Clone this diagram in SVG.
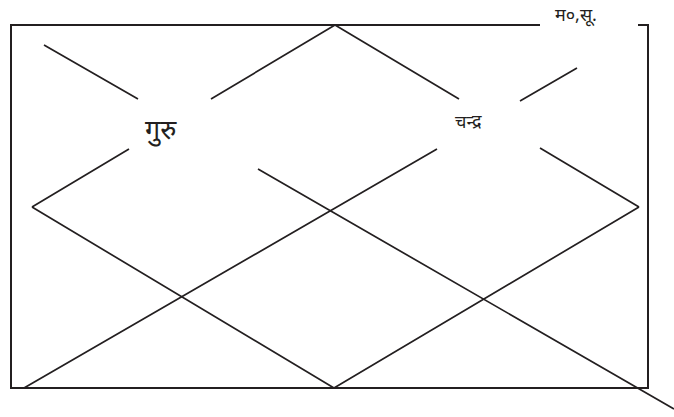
<svg xmlns="http://www.w3.org/2000/svg" width="674" height="417" viewBox="0 0 674 417">
<style>
.ln{stroke:#231f20;stroke-width:1.7;fill:none;stroke-linecap:butt}
.bd{stroke:#231f20;stroke-width:2;fill:none}
.t{font-family:"Noto Sans","Noto Serif","Liberation Serif",serif;fill:#231f20}
</style>
<rect width="674" height="417" fill="#ffffff"/>
<g id="connectors">
<path class="bd" d="M540,25 H11 V388 H648 V25 H638"/>
<path class="ln" d="M335,25 L211,99 M129,149 L32,207"/>
<path class="ln" d="M335,25 L459,99 M540,148 L639,207"/>
<path class="ln" d="M32,207 L334,388 L639,207"/>
<path class="ln" d="M24,388 L437,149 M520,101 L577,68"/>
<path class="ln" d="M44,45 L138,99 M258,169 L674,409"/>
</g>
<g id="node-guru"><text class="t" x="145" y="139" font-size="27">गुरु</text></g>
<g id="node-chandra"><text class="t" x="455" y="128" font-size="18">चन्द्र</text></g>
<g id="node-ma-su"><text class="t" x="555" y="21" font-size="18">म०,सू.</text></g>
</svg>
